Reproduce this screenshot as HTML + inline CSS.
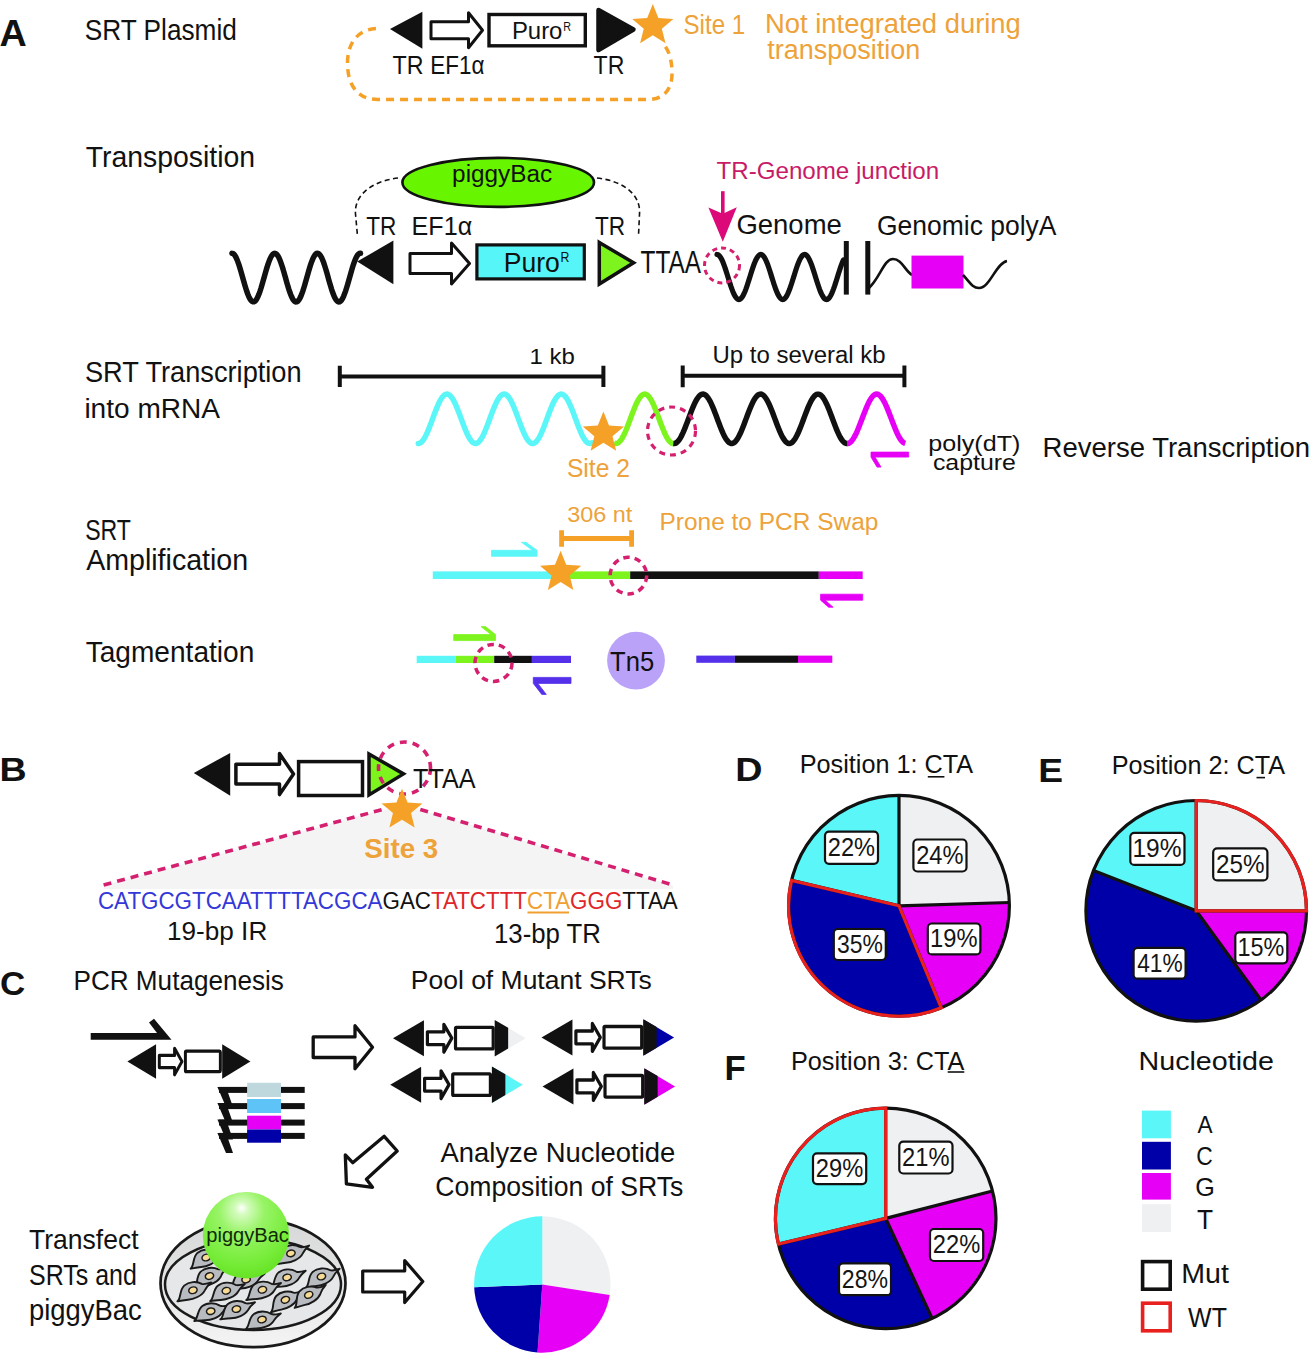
<!DOCTYPE html>
<html><head><meta charset="utf-8"><style>
html,body{margin:0;padding:0;background:#fff;}
svg{display:block;font-family:"Liberation Sans",sans-serif;}
</style></head><body>
<svg width="1312" height="1353" viewBox="0 0 1312 1353">
<rect width="1312" height="1353" fill="#fff"/>
<path d="M376,28.5 C356,30 347.5,45 347.5,63 C347.5,86 358,99.5 378,99.5 L648,99.5 C664,99.5 672,89 672,74 C672,62 670,53 665,46" fill="none" stroke="#F5A127" stroke-width="3.5" stroke-dasharray="8 6"/>
<polygon points="390.00,29.00 422.40,11.70 422.40,48.70" fill="#111111"/>
<polygon points="431.00,21.70 468.50,21.70 468.50,12.70 482.50,30.20 468.50,47.70 468.50,38.70 431.00,38.70" fill="#fff" stroke="#111111" stroke-width="3" stroke-linejoin="round"/>
<rect x="489" y="14.5" width="96.3" height="31.3" fill="#fff" stroke="#111111" stroke-width="3.4"/>
<polygon points="598.50,10.00 633.50,29.50 598.50,50.00" fill="#111111" stroke="#111111" stroke-width="4.5" stroke-linejoin="round"/>
<polygon points="652.80,4.10 658.39,18.01 673.34,19.03 661.84,28.64 665.50,43.17 652.80,35.20 640.10,43.17 643.76,28.64 632.26,19.03 647.21,18.01" fill="#F5A127"/>
<path d="M398,178 C372,181 354,195 355.5,214 L357.5,236" fill="none" stroke="#111111" stroke-width="1.6" stroke-dasharray="5 3.5"/>
<path d="M597,178 C624,181 641,195 639.5,214 L638.5,236" fill="none" stroke="#111111" stroke-width="1.6" stroke-dasharray="5 3.5"/>
<ellipse cx="498.2" cy="182.4" rx="95.8" ry="24.5" fill="#68F500" stroke="#111111" stroke-width="2.6"/>
<path d="M232.00,253.30 L233.00,253.56 L233.99,254.33 L234.99,255.61 L235.98,257.35 L236.98,259.53 L237.98,262.09 L238.97,264.98 L239.97,268.15 L240.97,271.51 L241.96,275.01 L242.96,278.56 L243.95,282.10 L244.95,285.53 L245.95,288.80 L246.94,291.82 L247.94,294.55 L248.93,296.91 L249.93,298.85 L250.93,300.34 L251.92,301.35 L252.92,301.85 L253.91,301.82 L254.91,301.28 L255.91,300.24 L256.90,298.71 L257.90,296.72 L258.90,294.33 L259.89,291.58 L260.89,288.53 L261.88,285.25 L262.88,281.80 L263.88,278.27 L264.87,274.72 L265.87,271.23 L266.86,267.87 L267.86,264.73 L268.86,261.86 L269.85,259.33 L270.85,257.19 L271.84,255.48 L272.84,254.25 L273.84,253.52 L274.83,253.30 L275.83,253.61 L276.83,254.42 L277.82,255.73 L278.82,257.52 L279.81,259.73 L280.81,262.32 L281.81,265.24 L282.80,268.42 L283.80,271.80 L284.79,275.31 L285.79,278.86 L286.79,282.39 L287.78,285.81 L288.78,289.06 L289.78,292.06 L290.77,294.76 L291.77,297.08 L292.76,298.99 L293.76,300.45 L294.76,301.41 L295.75,301.86 L296.75,301.80 L297.74,301.22 L298.74,300.13 L299.74,298.56 L300.73,296.54 L301.73,294.11 L302.72,291.34 L303.72,288.27 L304.72,284.97 L305.71,281.51 L306.71,277.97 L307.71,274.42 L308.70,270.94 L309.70,267.60 L310.69,264.48 L311.69,261.63 L312.69,259.13 L313.68,257.03 L314.68,255.36 L315.67,254.17 L316.67,253.48 L317.67,253.31 L318.66,253.65 L319.66,254.51 L320.66,255.87 L321.65,257.68 L322.65,259.93 L323.64,262.55 L324.64,265.49 L325.64,268.70 L326.63,272.09 L327.63,275.60 L328.62,279.16 L329.62,282.68 L330.62,286.09 L331.61,289.32 L332.61,292.30 L333.60,294.97 L334.60,297.26 L335.60,299.13 L336.59,300.55 L337.59,301.47 L338.59,301.88 L339.58,301.77 L340.58,301.14 L341.57,300.01 L342.57,298.40 L343.57,296.35 L344.56,293.89 L345.56,291.09 L346.55,288.00 L347.55,284.68 L348.55,281.22 L349.54,277.67 L350.54,274.13 L351.53,270.65 L352.53,267.33 L353.53,264.23 L354.52,261.41 L355.52,258.94 L356.52,256.87 L357.51,255.24 L358.51,254.09 L359.50,253.45 L360.50,253.32" fill="none" stroke="#111111" stroke-width="5.5" stroke-linecap="round"/>
<polygon points="357.20,261.60 393.40,240.50 393.40,284.30" fill="#111111"/>
<polygon points="410.00,253.40 451.50,253.40 451.50,242.90 469.50,263.40 451.50,283.90 451.50,273.40 410.00,273.40" fill="#fff" stroke="#111111" stroke-width="3" stroke-linejoin="round"/>
<rect x="476.9" y="244.9" width="107.4" height="34" fill="#55F5F8" stroke="#111111" stroke-width="3.2"/>
<polygon points="599.3,242.4 633.6,262.8 599.3,284" fill="#7EF41E" stroke="#111" stroke-width="3.5" stroke-linejoin="miter"/>
<rect x="721" y="191.2" width="3.6" height="24" fill="#DC0A78"/>
<polygon points="708.4,207.6 722.8,213.8 736.8,207.2 722.8,241.7" fill="#DC0A78"/>
<path d="M717.00,254.50 L718.00,254.73 L718.99,255.41 L719.99,256.54 L720.98,258.08 L721.98,260.00 L722.98,262.27 L723.97,264.85 L724.97,267.67 L725.96,270.68 L726.96,273.82 L727.96,277.02 L728.95,280.23 L729.95,283.36 L730.94,286.37 L731.94,289.19 L732.94,291.76 L733.93,294.03 L734.93,295.95 L735.93,297.48 L736.92,298.60 L737.92,299.28 L738.91,299.50 L739.91,299.26 L740.91,298.58 L741.90,297.45 L742.90,295.90 L743.89,293.97 L744.89,291.69 L745.89,289.12 L746.88,286.29 L747.88,283.28 L748.87,280.14 L749.87,276.94 L750.87,273.73 L751.86,270.60 L752.86,267.59 L753.85,264.77 L754.85,262.21 L755.85,259.95 L756.84,258.03 L757.84,256.50 L758.83,255.39 L759.83,254.72 L760.83,254.50 L761.82,254.74 L762.82,255.44 L763.81,256.57 L764.81,258.12 L765.81,260.06 L766.80,262.34 L767.80,264.92 L768.80,267.75 L769.79,270.76 L770.79,273.90 L771.78,277.11 L772.78,280.31 L773.78,283.45 L774.77,286.45 L775.77,289.26 L776.76,291.82 L777.76,294.08 L778.76,295.99 L779.75,297.52 L780.75,298.62 L781.74,299.29 L782.74,299.50 L783.74,299.25 L784.73,298.55 L785.73,297.41 L786.72,295.85 L787.72,293.91 L788.72,291.63 L789.71,289.04 L790.71,286.21 L791.70,283.20 L792.70,280.05 L793.70,276.85 L794.69,273.65 L795.69,270.51 L796.69,267.51 L797.68,264.70 L798.68,262.14 L799.67,259.89 L800.67,257.98 L801.67,256.46 L802.66,255.36 L803.66,254.71 L804.65,254.50 L805.65,254.75 L806.65,255.46 L807.64,256.61 L808.64,258.17 L809.63,260.12 L810.63,262.41 L811.63,264.99 L812.62,267.82 L813.62,270.84 L814.61,273.99 L815.61,277.19 L816.61,280.40 L817.60,283.53 L818.60,286.53 L819.59,289.33 L820.59,291.89 L821.59,294.14 L822.58,296.04 L823.58,297.55 L824.57,298.65 L825.57,299.30 L826.57,299.50 L827.56,299.24 L828.56,298.53 L829.56,297.37 L830.55,295.81 L831.55,293.86 L832.54,291.56 L833.54,288.97 L834.54,286.14 L835.53,283.11 L836.53,279.97 L837.52,276.76 L838.52,273.56 L839.52,270.43 L840.51,267.43 L841.51,264.63 L842.50,262.08 L843.50,259.83" fill="none" stroke="#111111" stroke-width="5.2" stroke-linecap="round"/>
<circle cx="722" cy="265.4" r="17.5" fill="none" stroke="#D5206F" stroke-width="3" stroke-dasharray="5 4"/>
<rect x="843.8" y="241" width="5" height="53.6" fill="#111111"/>
<rect x="865.3" y="241" width="5" height="53.6" fill="#111111"/>
<path d="M869,288 C880,278 884,259 893,259 C902,259 905,271 912,275" fill="none" stroke="#111111" stroke-width="2.6"/>
<rect x="911.5" y="255.6" width="52" height="32.9" fill="#E600F6"/>
<path d="M963,275 C969,281 972,288 979,288 C990,288 996,263 1007,261" fill="none" stroke="#111111" stroke-width="2.6"/>
<path d="M337.8,376.6 H605.4 M339.8,365.7 V387 M603.4,365.7 V387" fill="none" stroke="#111111" stroke-width="4"/>
<path d="M680.7,375.7 H906.4 M682.7,365.4 V387.2 M904.4,365.4 V387.2" fill="none" stroke="#111111" stroke-width="4"/>
<path d="M418.30,443.50 L419.30,443.36 L420.30,442.92 L421.29,442.19 L422.29,441.18 L423.29,439.90 L424.29,438.36 L425.29,436.60 L426.29,434.61 L427.28,432.44 L428.28,430.10 L429.28,427.63 L430.28,425.05 L431.28,422.40 L432.28,419.70 L433.27,416.99 L434.27,414.31 L435.27,411.67 L436.27,409.13 L437.27,406.70 L438.27,404.41 L439.26,402.30 L440.26,400.39 L441.26,398.69 L442.26,397.24 L443.26,396.05 L444.26,395.14 L445.25,394.50 L446.25,394.16 L447.25,394.12 L448.25,394.37 L449.25,394.92 L450.24,395.75 L451.24,396.86 L452.24,398.24 L453.24,399.86 L454.24,401.71 L455.24,403.76 L456.23,406.00 L457.23,408.39 L458.23,410.90 L459.23,413.51 L460.23,416.19 L461.23,418.89 L462.22,421.59 L463.22,424.26 L464.22,426.87 L465.22,429.38 L466.22,431.76 L467.22,433.98 L468.21,436.02 L469.21,437.86 L470.21,439.46 L471.21,440.82 L472.21,441.91 L473.21,442.73 L474.20,443.26 L475.20,443.49 L476.20,443.42 L477.20,443.06 L478.20,442.41 L479.19,441.48 L480.19,440.27 L481.19,438.80 L482.19,437.09 L483.19,435.16 L484.19,433.04 L485.18,430.75 L486.18,428.31 L487.18,425.75 L488.18,423.12 L489.18,420.43 L490.18,417.72 L491.17,415.02 L492.17,412.37 L493.17,409.80 L494.17,407.34 L495.17,405.01 L496.17,402.85 L497.16,400.88 L498.16,399.13 L499.16,397.61 L500.16,396.35 L501.16,395.36 L502.16,394.64 L503.15,394.23 L504.15,394.10 L505.15,394.27 L506.15,394.74 L507.15,395.50 L508.14,396.54 L509.14,397.84 L510.14,399.40 L511.14,401.19 L512.14,403.19 L513.14,405.38 L514.13,407.73 L515.13,410.22 L516.13,412.80 L517.13,415.46 L518.13,418.16 L519.13,420.87 L520.12,423.55 L521.12,426.18 L522.12,428.71 L523.12,431.13 L524.12,433.40 L525.12,435.49 L526.11,437.39 L527.11,439.06 L528.11,440.48 L529.11,441.65 L530.11,442.54 L531.11,443.14 L532.10,443.45 L533.10,443.47 L534.10,443.19 L535.10,442.61 L536.10,441.75 L537.09,440.62 L538.09,439.22 L539.09,437.57 L540.09,435.70 L541.09,433.63 L542.09,431.38 L543.08,428.97 L544.08,426.45 L545.08,423.83 L546.08,421.15 L547.08,418.45 L548.08,415.74 L549.07,413.08 L550.07,410.48 L551.07,407.99 L552.07,405.62 L553.07,403.41 L554.07,401.39 L555.06,399.58 L556.06,397.99 L557.06,396.66 L558.06,395.59 L559.06,394.81 L560.06,394.31 L561.05,394.11 L562.05,394.20 L563.05,394.59 L564.05,395.27 L565.05,396.23 L566.04,397.46 L567.04,398.96 L568.04,400.69 L569.04,402.63 L570.04,404.77 L571.04,407.09 L572.03,409.54 L573.03,412.10 L574.03,414.74 L575.03,417.43 L576.03,420.14 L577.03,422.84 L578.02,425.48 L579.02,428.04 L580.02,430.50 L581.02,432.81 L582.02,434.95 L583.02,436.90 L584.01,438.63 L585.01,440.12 L586.01,441.36 L587.01,442.33 L588.01,443.01 L589.01,443.40 L590.00,443.50 L591.00,443.29 L592.00,442.80" fill="none" stroke="#5AF6F8" stroke-width="5.5" stroke-linecap="round"/>
<path d="M614.00,442.88 L615.00,443.34 L615.99,443.50 L616.99,443.37 L617.99,442.95 L618.98,442.23 L619.98,441.24 L620.98,439.98 L621.97,438.47 L622.97,436.72 L623.97,434.76 L624.96,432.61 L625.96,430.30 L626.96,427.84 L627.95,425.28 L628.95,422.64 L629.95,419.96 L630.94,417.26 L631.94,414.58 L632.94,411.95 L633.93,409.41 L634.93,406.97 L635.93,404.68 L636.92,402.55 L637.92,400.62 L638.92,398.90 L639.91,397.42 L640.91,396.20 L641.91,395.25 L642.90,394.58 L643.90,394.19 L644.90,394.11 L645.89,394.31 L646.89,394.81 L647.89,395.59 L648.88,396.65 L649.88,397.98 L650.88,399.55 L651.87,401.36 L652.87,403.37 L653.87,405.56 L654.86,407.92 L655.86,410.40 L656.86,412.98 L657.85,415.64 L658.85,418.33 L659.85,421.02 L660.84,423.69 L661.84,426.30 L662.84,428.83 L663.83,431.23 L664.83,433.48 L665.83,435.56 L666.82,437.44 L667.82,439.10 L668.82,440.51 L669.81,441.67 L670.81,442.55 L671.81,443.15 L672.80,443.46 L673.80,443.47" fill="none" stroke="#7EF41E" stroke-width="5.5"/>
<path d="M673.30,443.41 L674.30,443.49 L675.29,443.29 L676.29,442.80 L677.28,442.03 L678.28,440.98 L679.27,439.67 L680.27,438.12 L681.26,436.34 L682.26,434.35 L683.25,432.18 L684.25,429.85 L685.25,427.39 L686.24,424.83 L687.24,422.19 L688.23,419.52 L689.23,416.84 L690.22,414.19 L691.22,411.58 L692.21,409.07 L693.21,406.66 L694.20,404.40 L695.20,402.31 L696.19,400.42 L697.19,398.74 L698.19,397.29 L699.18,396.10 L700.18,395.18 L701.17,394.54 L702.17,394.18 L703.16,394.11 L704.16,394.33 L705.15,394.84 L706.15,395.64 L707.14,396.70 L708.14,398.03 L709.14,399.60 L710.13,401.39 L711.13,403.39 L712.12,405.58 L713.12,407.92 L714.11,410.38 L715.11,412.95 L716.10,415.59 L717.10,418.26 L718.09,420.94 L719.09,423.59 L720.09,426.19 L721.08,428.70 L722.08,431.09 L723.07,433.34 L724.07,435.42 L725.06,437.30 L726.06,438.97 L727.05,440.39 L728.05,441.57 L729.04,442.47 L730.04,443.10 L731.03,443.44 L732.03,443.48 L733.03,443.24 L734.02,442.71 L735.02,441.90 L736.01,440.82 L737.01,439.47 L738.00,437.89 L739.00,436.08 L739.99,434.06 L740.99,431.87 L741.98,429.52 L742.98,427.05 L743.98,424.47 L744.97,421.83 L745.97,419.16 L746.96,416.48 L747.96,413.83 L748.95,411.24 L749.95,408.73 L750.94,406.35 L751.94,404.11 L752.93,402.04 L753.93,400.18 L754.93,398.53 L755.92,397.12 L756.92,395.96 L757.91,395.08 L758.91,394.47 L759.90,394.15 L760.90,394.12 L761.89,394.38 L762.89,394.93 L763.88,395.76 L764.88,396.87 L765.87,398.23 L766.87,399.83 L767.87,401.65 L768.86,403.68 L769.86,405.89 L770.85,408.24 L771.85,410.73 L772.84,413.30 L773.84,415.95 L774.83,418.62 L775.83,421.30 L776.82,423.95 L777.82,426.54 L778.82,429.03 L779.81,431.41 L780.81,433.64 L781.80,435.69 L782.80,437.54 L783.79,439.18 L784.79,440.57 L785.78,441.70 L786.78,442.57 L787.77,443.16 L788.77,443.46 L789.77,443.47 L790.76,443.19 L791.76,442.62 L792.75,441.77 L793.75,440.65 L794.74,439.27 L795.74,437.66 L796.73,435.82 L797.73,433.78 L798.72,431.56 L799.72,429.19 L800.71,426.70 L801.71,424.12 L802.71,421.47 L803.70,418.80 L804.70,416.12 L805.69,413.47 L806.69,410.89 L807.68,408.40 L808.68,406.04 L809.67,403.82 L810.67,401.78 L811.66,399.94 L812.66,398.32 L813.66,396.95 L814.65,395.83 L815.65,394.98 L816.64,394.41 L817.64,394.13 L818.63,394.14 L819.63,394.44 L820.62,395.03 L821.62,395.90 L822.61,397.03 L823.61,398.43 L824.61,400.06 L825.60,401.92 L826.60,403.97 L827.59,406.20 L828.59,408.57 L829.58,411.07 L830.58,413.66 L831.57,416.31 L832.57,418.98 L833.56,421.66 L834.56,424.30 L835.55,426.88 L836.55,429.36 L837.55,431.72 L838.54,433.92 L839.54,435.95 L840.53,437.78 L841.53,439.38 L842.52,440.74 L843.52,441.84 L844.51,442.67 L845.51,443.22 L846.50,443.48 L847.50,443.45" fill="none" stroke="#111111" stroke-width="5.5"/>
<path d="M847.00,443.48 L847.99,443.45 L848.98,443.15 L849.96,442.57 L850.95,441.73 L851.94,440.63 L852.93,439.29 L853.92,437.71 L854.91,435.93 L855.89,433.95 L856.88,431.80 L857.87,429.50 L858.86,427.09 L859.85,424.58 L860.83,422.01 L861.82,419.40 L862.81,416.79 L863.80,414.20 L864.79,411.66 L865.77,409.20 L866.76,406.84 L867.75,404.62 L868.74,402.57 L869.73,400.69 L870.72,399.01 L871.70,397.56 L872.69,396.35 L873.68,395.38 L874.67,394.68 L875.66,394.25 L876.64,394.10 L877.63,394.22 L878.62,394.62 L879.61,395.29 L880.60,396.22 L881.58,397.41 L882.57,398.84 L883.56,400.49 L884.55,402.34 L885.54,404.38 L886.53,406.59 L887.51,408.92 L888.50,411.37 L889.49,413.91 L890.48,416.49 L891.47,419.11 L892.45,421.72 L893.44,424.30 L894.43,426.81 L895.42,429.24 L896.41,431.55 L897.39,433.71 L898.38,435.71 L899.37,437.52 L900.36,439.12 L901.35,440.49 L902.34,441.62 L903.32,442.49 L904.31,443.10 L905.30,443.43" fill="none" stroke="#E600F6" stroke-width="5.5"/>
<polygon points="603.40,411.50 609.01,425.48 624.04,426.49 612.48,436.15 616.15,450.76 603.40,442.75 590.65,450.76 594.32,436.15 582.76,426.49 597.79,425.48" fill="#F5A127"/>
<circle cx="671.5" cy="431" r="24" fill="none" stroke="#D5206F" stroke-width="3.2" stroke-dasharray="6 5"/>
<polygon points="908.70,457.10 875.00,457.10 881.00,467.10 877.00,467.10 871.00,457.10 871.00,452.10 908.70,452.10" fill="#E600F6" stroke="#E600F6" stroke-width="0.8" stroke-linejoin="round"/>
<rect x="432.8" y="571.4" width="126.2" height="7.6" fill="#5AF6F8"/>
<rect x="559" y="571.4" width="71.4" height="7.6" fill="#7EF41E"/>
<rect x="630.2" y="571.4" width="188.6" height="7.6" fill="#111111"/>
<rect x="818.8" y="571.4" width="43.9" height="7.6" fill="#E600F6"/>
<polygon points="560.60,550.80 566.21,564.78 581.24,565.79 569.68,575.45 573.35,590.06 560.60,582.05 547.85,590.06 551.52,575.45 539.96,565.79 554.99,564.78" fill="#F5A127"/>
<path d="M561.6,538.5 H631.6 M561.6,530.3 V546.8 M631.6,530.3 V546.8" fill="none" stroke="#F5A127" stroke-width="4.8"/>
<polygon points="491.50,550.30 532.50,550.30 521.50,542.30 526.00,542.30 537.00,550.30 537.00,556.30 491.50,556.30" fill="#5AF6F8" stroke="#5AF6F8" stroke-width="0.8" stroke-linejoin="round"/>
<circle cx="628.4" cy="575.6" r="18.3" fill="none" stroke="#D5206F" stroke-width="3.5" stroke-dasharray="6.5 5"/>
<polygon points="862.70,600.20 825.10,600.20 833.10,607.20 828.60,607.20 820.60,600.20 820.60,594.20 862.70,594.20" fill="#E600F6" stroke="#E600F6" stroke-width="0.8" stroke-linejoin="round"/>
<rect x="416.7" y="655.8" width="39.1" height="7.2" fill="#5AF6F8"/>
<rect x="455.8" y="655.8" width="38.4" height="7.2" fill="#7EF41E"/>
<rect x="494.2" y="655.8" width="37.7" height="7.2" fill="#111111"/>
<rect x="531.9" y="655.8" width="39.1" height="7.2" fill="#5530EA"/>
<polygon points="453.70,634.60 491.00,634.60 481.00,626.60 485.50,626.60 495.50,634.60 495.50,640.60 453.70,640.60" fill="#7EF41E" stroke="#7EF41E" stroke-width="0.8" stroke-linejoin="round"/>
<polygon points="571.00,683.40 537.80,683.40 546.30,694.40 541.80,694.40 533.30,683.40 533.30,677.40 571.00,677.40" fill="#5530EA" stroke="#5530EA" stroke-width="0.8" stroke-linejoin="round"/>
<circle cx="493.5" cy="662.9" r="18.5" fill="none" stroke="#D5206F" stroke-width="3.5" stroke-dasharray="6.5 5"/>
<circle cx="636" cy="660.6" r="28.9" fill="#B9A2F8"/>
<rect x="696.3" y="655.6" width="38.6" height="7.2" fill="#5530EA"/>
<rect x="734.9" y="655.6" width="63.1" height="7.2" fill="#111111"/>
<rect x="798" y="655.6" width="34.3" height="7.2" fill="#E600F6"/>
<polygon points="103.6,885.5 382.4,809.5 420.3,809.5 673,885.5 673,889 103.6,889" fill="#F4F4F4"/>
<path d="M103.6,885 L382.4,809.5 M420.3,809.5 L673,885" fill="none" stroke="#D5206F" stroke-width="3.6" stroke-dasharray="8 6"/>
<polygon points="193.80,773.00 230.20,752.90 230.20,795.80" fill="#111111"/>
<polygon points="235.90,764.20 279.50,764.20 279.50,753.60 293.50,774.10 279.50,794.60 279.50,784.00 235.90,784.00" fill="#fff" stroke="#111111" stroke-width="3.5" stroke-linejoin="round"/>
<rect x="298.6" y="761.6" width="63.9" height="33.9" fill="#fff" stroke="#111111" stroke-width="3.5"/>
<polygon points="369,754 403.5,773.9 369,795" fill="#7EF41E" stroke="#111" stroke-width="3.5" stroke-linejoin="miter"/>
<circle cx="404.5" cy="768" r="26" fill="none" stroke="#D5206F" stroke-width="3.6" stroke-dasharray="7 6"/>
<polygon points="402.00,788.70 407.56,802.55 422.45,803.56 411.00,813.12 414.64,827.59 402.00,819.66 389.36,827.59 393.00,813.12 381.55,803.56 396.44,802.55" fill="#F5A127"/>
<line x1="527.5" y1="912.5" x2="569" y2="912.5" stroke="#F0A030" stroke-width="2"/>
<polygon points="90.7,1032.9 157,1032.9 149,1022.6 154,1018.8 171.5,1039.7 90.7,1039.7" fill="#111"/>
<g transform="translate(127.4,1061.5) scale(0.925,0.98)"><polygon points="0.00,0.00 31.00,-17.50 31.00,17.50" fill="#111111"/><polygon points="34.50,-6.20 51.00,-6.20 51.00,-13.50 59.00,0.00 51.00,13.50 51.00,6.20 34.50,6.20" fill="#fff" stroke="#111111" stroke-width="3.2" stroke-linejoin="round"/><rect x="62.7" y="-10.6" width="37.8" height="21" fill="#fff" stroke="#111111" stroke-width="3.2" rx="1"/><polygon points="102.50,-17.50 133.00,0.00 102.50,17.50" fill="#111111"/></g>
<rect x="219" y="1086.9" width="85.7" height="6" fill="#111111"/>
<polygon points="217.4,1086.9 226,1086.9 233,1106.9 226,1106.9" fill="#111111"/>
<rect x="219" y="1103.1" width="85.7" height="6" fill="#111111"/>
<polygon points="217.4,1103.1 226,1103.1 233,1123.1 226,1123.1" fill="#111111"/>
<rect x="219" y="1119.6" width="85.7" height="6" fill="#111111"/>
<polygon points="217.4,1119.6 226,1119.6 233,1139.6 226,1139.6" fill="#111111"/>
<rect x="219" y="1132.9" width="85.7" height="6" fill="#111111"/>
<polygon points="217.4,1132.9 226,1132.9 233,1152.9 226,1152.9" fill="#111111"/>
<rect x="247.1" y="1082.8" width="33.9" height="14.2" fill="#BED8DD"/>
<rect x="247.1" y="1099" width="33.9" height="14" fill="#5EC3F6"/>
<rect x="247.1" y="1115.7" width="33.9" height="13.8" fill="#E600F6"/>
<rect x="247.1" y="1129.5" width="33.9" height="13.2" fill="#0000A8"/>
<polygon points="313.20,1036.90 355.00,1036.90 355.00,1025.70 372.50,1047.20 355.00,1068.70 355.00,1057.50 313.20,1057.50" fill="#fff" stroke="#111111" stroke-width="3.3" stroke-linejoin="round"/>
<g transform="translate(393,1038.2) scale(0.997,1.03)"><polygon points="0.00,0.00 31.00,-17.50 31.00,17.50" fill="#111111"/><polygon points="34.50,-6.20 51.00,-6.20 51.00,-13.50 59.00,0.00 51.00,13.50 51.00,6.20 34.50,6.20" fill="#fff" stroke="#111111" stroke-width="3.2" stroke-linejoin="round"/><rect x="62.7" y="-10.6" width="37.8" height="21" fill="#fff" stroke="#111111" stroke-width="3.2" rx="1"/><polygon points="102.5,-17.5 133,0 102.5,17.5" fill="#EEF0F1"/><polygon points="102,-17.7 115.5,-10.1 115.5,10.1 102,17.7" fill="#111111"/></g>
<g transform="translate(541.5,1037.4) scale(0.997,1.03)"><polygon points="0.00,0.00 31.00,-17.50 31.00,17.50" fill="#111111"/><polygon points="34.50,-6.20 51.00,-6.20 51.00,-13.50 59.00,0.00 51.00,13.50 51.00,6.20 34.50,6.20" fill="#fff" stroke="#111111" stroke-width="3.2" stroke-linejoin="round"/><rect x="62.7" y="-10.6" width="37.8" height="21" fill="#fff" stroke="#111111" stroke-width="3.2" rx="1"/><polygon points="102.5,-17.5 133,0 102.5,17.5" fill="#0000A8"/><polygon points="102,-17.7 115.5,-10.1 115.5,10.1 102,17.7" fill="#111111"/></g>
<g transform="translate(390.2,1084.7) scale(0.997,1.03)"><polygon points="0.00,0.00 31.00,-17.50 31.00,17.50" fill="#111111"/><polygon points="34.50,-6.20 51.00,-6.20 51.00,-13.50 59.00,0.00 51.00,13.50 51.00,6.20 34.50,6.20" fill="#fff" stroke="#111111" stroke-width="3.2" stroke-linejoin="round"/><rect x="62.7" y="-10.6" width="37.8" height="21" fill="#fff" stroke="#111111" stroke-width="3.2" rx="1"/><polygon points="102.5,-17.5 133,0 102.5,17.5" fill="#5AF6F8"/><polygon points="102,-17.7 115.5,-10.1 115.5,10.1 102,17.7" fill="#111111"/></g>
<g transform="translate(542.5,1086.4) scale(0.997,1.03)"><polygon points="0.00,0.00 31.00,-17.50 31.00,17.50" fill="#111111"/><polygon points="34.50,-6.20 51.00,-6.20 51.00,-13.50 59.00,0.00 51.00,13.50 51.00,6.20 34.50,6.20" fill="#fff" stroke="#111111" stroke-width="3.2" stroke-linejoin="round"/><rect x="62.7" y="-10.6" width="37.8" height="21" fill="#fff" stroke="#111111" stroke-width="3.2" rx="1"/><polygon points="102.5,-17.5 133,0 102.5,17.5" fill="#E600F6"/><polygon points="102,-17.7 115.5,-10.1 115.5,10.1 102,17.7" fill="#111111"/></g>
<polygon points="384.2,1136.3 397.2,1151 366.4,1179.3 372.5,1187.3 346.4,1183.9 345.3,1154.9 352.7,1162.7" fill="#fff" stroke="#111" stroke-width="3.3" stroke-linejoin="round"/>
<polygon points="362.70,1271.00 404.70,1271.00 404.70,1260.50 422.80,1281.50 404.70,1302.50 404.70,1292.00 362.70,1292.00" fill="#fff" stroke="#111111" stroke-width="3.2" stroke-linejoin="round"/>
<defs><radialGradient id="sph" cx="0.45" cy="0.3" r="0.75" fx="0.45" fy="0.18"><stop offset="0" stop-color="#FFFFFF"/><stop offset="0.1" stop-color="#D4FBBE"/><stop offset="0.35" stop-color="#98F466"/><stop offset="0.75" stop-color="#76EC38"/><stop offset="1" stop-color="#62E020"/></radialGradient><linearGradient id="dishg" x1="0" y1="0" x2="0" y2="1"><stop offset="0" stop-color="#D6D7D8"/><stop offset="1" stop-color="#F4F4F4"/></linearGradient></defs>
<ellipse cx="253" cy="1283.2" rx="92.5" ry="64" fill="url(#dishg)" stroke="#1a1a1a" stroke-width="2.7"/>
<ellipse cx="253" cy="1284.5" rx="88" ry="45.5" fill="#E6E7E8" stroke="#1a1a1a" stroke-width="2.5"/>
<g transform="translate(206,1257) rotate(-15) scale(1.12)"><path d="M-16,6.5 C-12,5 -12,-2.5 -6.5,-5.5 C-1.5,-8 5.5,-6.5 9,-3 C11,-1.5 14,-1.8 17.5,-2 C14.5,-0.5 12,1 10,3.5 C6.5,7.5 -1.5,8.5 -6.5,7.5 C-9.5,7 -12.5,6.8 -16,6.5 Z" fill="#B8BCC0" stroke="#1a1a1a" stroke-width="1.7" stroke-linejoin="round"/><ellipse cx="0" cy="0.5" rx="3.8" ry="2.9" fill="#F6DA96" stroke="#1a1a1a" stroke-width="1.3"/></g>
<g transform="translate(246,1279) rotate(-10) scale(1.12)"><path d="M-16,6.5 C-12,5 -12,-2.5 -6.5,-5.5 C-1.5,-8 5.5,-6.5 9,-3 C11,-1.5 14,-1.8 17.5,-2 C14.5,-0.5 12,1 10,3.5 C6.5,7.5 -1.5,8.5 -6.5,7.5 C-9.5,7 -12.5,6.8 -16,6.5 Z" fill="#B8BCC0" stroke="#1a1a1a" stroke-width="1.7" stroke-linejoin="round"/><ellipse cx="0" cy="0.5" rx="3.8" ry="2.9" fill="#F6DA96" stroke="#1a1a1a" stroke-width="1.3"/></g>
<g transform="translate(290.8,1252.8) rotate(-15) scale(1.12)"><path d="M-16,6.5 C-12,5 -12,-2.5 -6.5,-5.5 C-1.5,-8 5.5,-6.5 9,-3 C11,-1.5 14,-1.8 17.5,-2 C14.5,-0.5 12,1 10,3.5 C6.5,7.5 -1.5,8.5 -6.5,7.5 C-9.5,7 -12.5,6.8 -16,6.5 Z" fill="#B8BCC0" stroke="#1a1a1a" stroke-width="1.7" stroke-linejoin="round"/><ellipse cx="0" cy="0.5" rx="3.8" ry="2.9" fill="#F6DA96" stroke="#1a1a1a" stroke-width="1.3"/></g>
<g transform="translate(209.3,1275.5) rotate(-18) scale(1.12)"><path d="M-16,6.5 C-12,5 -12,-2.5 -6.5,-5.5 C-1.5,-8 5.5,-6.5 9,-3 C11,-1.5 14,-1.8 17.5,-2 C14.5,-0.5 12,1 10,3.5 C6.5,7.5 -1.5,8.5 -6.5,7.5 C-9.5,7 -12.5,6.8 -16,6.5 Z" fill="#B8BCC0" stroke="#1a1a1a" stroke-width="1.7" stroke-linejoin="round"/><ellipse cx="0" cy="0.5" rx="3.8" ry="2.9" fill="#F6DA96" stroke="#1a1a1a" stroke-width="1.3"/></g>
<g transform="translate(287,1276.9) rotate(-12) scale(1.12)"><path d="M-16,6.5 C-12,5 -12,-2.5 -6.5,-5.5 C-1.5,-8 5.5,-6.5 9,-3 C11,-1.5 14,-1.8 17.5,-2 C14.5,-0.5 12,1 10,3.5 C6.5,7.5 -1.5,8.5 -6.5,7.5 C-9.5,7 -12.5,6.8 -16,6.5 Z" fill="#B8BCC0" stroke="#1a1a1a" stroke-width="1.7" stroke-linejoin="round"/><ellipse cx="0" cy="0.5" rx="3.8" ry="2.9" fill="#F6DA96" stroke="#1a1a1a" stroke-width="1.3"/></g>
<g transform="translate(321.3,1276) rotate(-15) scale(1.12)"><path d="M-16,6.5 C-12,5 -12,-2.5 -6.5,-5.5 C-1.5,-8 5.5,-6.5 9,-3 C11,-1.5 14,-1.8 17.5,-2 C14.5,-0.5 12,1 10,3.5 C6.5,7.5 -1.5,8.5 -6.5,7.5 C-9.5,7 -12.5,6.8 -16,6.5 Z" fill="#B8BCC0" stroke="#1a1a1a" stroke-width="1.7" stroke-linejoin="round"/><ellipse cx="0" cy="0.5" rx="3.8" ry="2.9" fill="#F6DA96" stroke="#1a1a1a" stroke-width="1.3"/></g>
<g transform="translate(192.8,1289.7) rotate(-15) scale(1.12)"><path d="M-16,6.5 C-12,5 -12,-2.5 -6.5,-5.5 C-1.5,-8 5.5,-6.5 9,-3 C11,-1.5 14,-1.8 17.5,-2 C14.5,-0.5 12,1 10,3.5 C6.5,7.5 -1.5,8.5 -6.5,7.5 C-9.5,7 -12.5,6.8 -16,6.5 Z" fill="#B8BCC0" stroke="#1a1a1a" stroke-width="1.7" stroke-linejoin="round"/><ellipse cx="0" cy="0.5" rx="3.8" ry="2.9" fill="#F6DA96" stroke="#1a1a1a" stroke-width="1.3"/></g>
<g transform="translate(226.2,1290.2) rotate(-12) scale(1.12)"><path d="M-16,6.5 C-12,5 -12,-2.5 -6.5,-5.5 C-1.5,-8 5.5,-6.5 9,-3 C11,-1.5 14,-1.8 17.5,-2 C14.5,-0.5 12,1 10,3.5 C6.5,7.5 -1.5,8.5 -6.5,7.5 C-9.5,7 -12.5,6.8 -16,6.5 Z" fill="#B8BCC0" stroke="#1a1a1a" stroke-width="1.7" stroke-linejoin="round"/><ellipse cx="0" cy="0.5" rx="3.8" ry="2.9" fill="#F6DA96" stroke="#1a1a1a" stroke-width="1.3"/></g>
<g transform="translate(262.3,1289.2) rotate(-12) scale(1.12)"><path d="M-16,6.5 C-12,5 -12,-2.5 -6.5,-5.5 C-1.5,-8 5.5,-6.5 9,-3 C11,-1.5 14,-1.8 17.5,-2 C14.5,-0.5 12,1 10,3.5 C6.5,7.5 -1.5,8.5 -6.5,7.5 C-9.5,7 -12.5,6.8 -16,6.5 Z" fill="#B8BCC0" stroke="#1a1a1a" stroke-width="1.7" stroke-linejoin="round"/><ellipse cx="0" cy="0.5" rx="3.8" ry="2.9" fill="#F6DA96" stroke="#1a1a1a" stroke-width="1.3"/></g>
<g transform="translate(285.2,1299.3) rotate(-20) scale(1.12)"><path d="M-16,6.5 C-12,5 -12,-2.5 -6.5,-5.5 C-1.5,-8 5.5,-6.5 9,-3 C11,-1.5 14,-1.8 17.5,-2 C14.5,-0.5 12,1 10,3.5 C6.5,7.5 -1.5,8.5 -6.5,7.5 C-9.5,7 -12.5,6.8 -16,6.5 Z" fill="#B8BCC0" stroke="#1a1a1a" stroke-width="1.7" stroke-linejoin="round"/><ellipse cx="0" cy="0.5" rx="3.8" ry="2.9" fill="#F6DA96" stroke="#1a1a1a" stroke-width="1.3"/></g>
<g transform="translate(308.5,1294.4) rotate(-22) scale(1.12)"><path d="M-16,6.5 C-12,5 -12,-2.5 -6.5,-5.5 C-1.5,-8 5.5,-6.5 9,-3 C11,-1.5 14,-1.8 17.5,-2 C14.5,-0.5 12,1 10,3.5 C6.5,7.5 -1.5,8.5 -6.5,7.5 C-9.5,7 -12.5,6.8 -16,6.5 Z" fill="#B8BCC0" stroke="#1a1a1a" stroke-width="1.7" stroke-linejoin="round"/><ellipse cx="0" cy="0.5" rx="3.8" ry="2.9" fill="#F6DA96" stroke="#1a1a1a" stroke-width="1.3"/></g>
<g transform="translate(210.6,1310.7) rotate(-10) scale(1.12)"><path d="M-16,6.5 C-12,5 -12,-2.5 -6.5,-5.5 C-1.5,-8 5.5,-6.5 9,-3 C11,-1.5 14,-1.8 17.5,-2 C14.5,-0.5 12,1 10,3.5 C6.5,7.5 -1.5,8.5 -6.5,7.5 C-9.5,7 -12.5,6.8 -16,6.5 Z" fill="#B8BCC0" stroke="#1a1a1a" stroke-width="1.7" stroke-linejoin="round"/><ellipse cx="0" cy="0.5" rx="3.8" ry="2.9" fill="#F6DA96" stroke="#1a1a1a" stroke-width="1.3"/></g>
<g transform="translate(236.3,1308.5) rotate(-12) scale(1.12)"><path d="M-16,6.5 C-12,5 -12,-2.5 -6.5,-5.5 C-1.5,-8 5.5,-6.5 9,-3 C11,-1.5 14,-1.8 17.5,-2 C14.5,-0.5 12,1 10,3.5 C6.5,7.5 -1.5,8.5 -6.5,7.5 C-9.5,7 -12.5,6.8 -16,6.5 Z" fill="#B8BCC0" stroke="#1a1a1a" stroke-width="1.7" stroke-linejoin="round"/><ellipse cx="0" cy="0.5" rx="3.8" ry="2.9" fill="#F6DA96" stroke="#1a1a1a" stroke-width="1.3"/></g>
<g transform="translate(261.9,1319) rotate(-10) scale(1.12)"><path d="M-16,6.5 C-12,5 -12,-2.5 -6.5,-5.5 C-1.5,-8 5.5,-6.5 9,-3 C11,-1.5 14,-1.8 17.5,-2 C14.5,-0.5 12,1 10,3.5 C6.5,7.5 -1.5,8.5 -6.5,7.5 C-9.5,7 -12.5,6.8 -16,6.5 Z" fill="#B8BCC0" stroke="#1a1a1a" stroke-width="1.7" stroke-linejoin="round"/><ellipse cx="0" cy="0.5" rx="3.8" ry="2.9" fill="#F6DA96" stroke="#1a1a1a" stroke-width="1.3"/></g>
<circle cx="246" cy="1235.2" r="43.2" fill="url(#sph)"/>
<path d="M542.30,1284.50 L542.30,1216.30 A68.20,68.20 0 0 1 609.70,1294.93 Z" fill="#EEF0F1"/>
<path d="M542.30,1284.50 L609.70,1294.93 A68.20,68.20 0 0 1 537.54,1352.53 Z" fill="#E600F6"/>
<path d="M542.30,1284.50 L537.54,1352.53 A68.20,68.20 0 0 1 474.16,1287.36 Z" fill="#0000A8"/>
<path d="M542.30,1284.50 L474.16,1287.36 A68.20,68.20 0 0 1 542.30,1216.30 Z" fill="#5AF6F8"/>
<path d="M899.00,905.80 L899.00,795.40 A110.40,110.40 0 0 1 1009.35,902.52 Z" fill="#EEF0F1"/>
<path d="M899.00,905.80 L1009.35,902.52 A110.40,110.40 0 0 1 941.25,1007.80 Z" fill="#E600F6"/>
<path d="M899.00,905.80 L941.25,1007.80 A110.40,110.40 0 0 1 791.56,880.40 Z" fill="#0000A8"/>
<path d="M899.00,905.80 L791.56,880.40 A110.40,110.40 0 0 1 899.00,795.40 Z" fill="#5AF6F8"/>
<circle cx="899" cy="905.8" r="110.4" fill="none" stroke="#111" stroke-width="3.2"/>
<line x1="899" y1="905.8" x2="899.00" y2="795.40" stroke="#111" stroke-width="3.2"/>
<line x1="899" y1="905.8" x2="1009.35" y2="902.52" stroke="#111" stroke-width="3.2"/>
<line x1="899" y1="905.8" x2="941.25" y2="1007.80" stroke="#111" stroke-width="3.2"/>
<line x1="899" y1="905.8" x2="791.56" y2="880.40" stroke="#111" stroke-width="3.2"/>
<path d="M899.00,905.80 L941.25,1007.80 A110.40,110.40 0 0 1 791.56,880.40 Z" fill="none" stroke="#E8201E" stroke-width="3.2" stroke-linejoin="miter"/>
<path d="M1196.20,910.80 L1196.20,800.50 A110.30,110.30 0 0 1 1306.50,910.80 Z" fill="#EEF0F1"/>
<path d="M1196.20,910.80 L1306.50,910.80 A110.30,110.30 0 0 1 1261.03,1000.03 Z" fill="#E600F6"/>
<path d="M1196.20,910.80 L1261.03,1000.03 A110.30,110.30 0 0 1 1093.50,870.55 Z" fill="#0000A8"/>
<path d="M1196.20,910.80 L1093.50,870.55 A110.30,110.30 0 0 1 1196.20,800.50 Z" fill="#5AF6F8"/>
<circle cx="1196.2" cy="910.8" r="110.3" fill="none" stroke="#111" stroke-width="3.2"/>
<line x1="1196.2" y1="910.8" x2="1196.20" y2="800.50" stroke="#111" stroke-width="3.2"/>
<line x1="1196.2" y1="910.8" x2="1306.50" y2="910.80" stroke="#111" stroke-width="3.2"/>
<line x1="1196.2" y1="910.8" x2="1261.03" y2="1000.03" stroke="#111" stroke-width="3.2"/>
<line x1="1196.2" y1="910.8" x2="1093.50" y2="870.55" stroke="#111" stroke-width="3.2"/>
<path d="M1196.20,910.80 L1196.20,800.50 A110.30,110.30 0 0 1 1306.50,910.80 Z" fill="none" stroke="#E8201E" stroke-width="3.2" stroke-linejoin="miter"/>
<path d="M885.70,1218.40 L885.70,1108.10 A110.30,110.30 0 0 1 992.53,1190.97 Z" fill="#EEF0F1"/>
<path d="M885.70,1218.40 L992.53,1190.97 A110.30,110.30 0 0 1 932.14,1318.45 Z" fill="#E600F6"/>
<path d="M885.70,1218.40 L932.14,1318.45 A110.30,110.30 0 0 1 778.45,1244.15 Z" fill="#0000A8"/>
<path d="M885.70,1218.40 L778.45,1244.15 A110.30,110.30 0 0 1 885.70,1108.10 Z" fill="#5AF6F8"/>
<circle cx="885.7" cy="1218.4" r="110.3" fill="none" stroke="#111" stroke-width="3.2"/>
<line x1="885.7" y1="1218.4" x2="885.70" y2="1108.10" stroke="#111" stroke-width="3.2"/>
<line x1="885.7" y1="1218.4" x2="992.53" y2="1190.97" stroke="#111" stroke-width="3.2"/>
<line x1="885.7" y1="1218.4" x2="932.14" y2="1318.45" stroke="#111" stroke-width="3.2"/>
<line x1="885.7" y1="1218.4" x2="778.45" y2="1244.15" stroke="#111" stroke-width="3.2"/>
<path d="M885.70,1218.40 L778.45,1244.15 A110.30,110.30 0 0 1 885.70,1108.10 Z" fill="none" stroke="#E8201E" stroke-width="3.2" stroke-linejoin="miter"/>
<rect x="825.00" y="831.70" width="53.00" height="32.10" rx="4" fill="#fff" stroke="#111" stroke-width="2.2"/>
<text x="827.82" y="856.15" font-size="25.36" fill="#151515" textLength="47.24" lengthAdjust="spacingAndGlyphs" style="" >22%</text>
<rect x="913.40" y="839.50" width="53.10" height="32.00" rx="4" fill="#fff" stroke="#111" stroke-width="2.2"/>
<text x="916.22" y="863.90" font-size="25.36" fill="#151515" textLength="47.35" lengthAdjust="spacingAndGlyphs" style="" >24%</text>
<rect x="833.80" y="929.00" width="52.00" height="31.00" rx="4" fill="#fff" stroke="#111" stroke-width="2.2"/>
<text x="836.88" y="952.90" font-size="25.36" fill="#151515" textLength="45.96" lengthAdjust="spacingAndGlyphs" style="" >35%</text>
<rect x="927.80" y="923.50" width="52.60" height="30.90" rx="4" fill="#fff" stroke="#111" stroke-width="2.2"/>
<text x="930.02" y="947.35" font-size="25.36" fill="#151515" textLength="47.44" lengthAdjust="spacingAndGlyphs" style="" >19%</text>
<rect x="1130.30" y="832.80" width="54.20" height="32.10" rx="4" fill="#fff" stroke="#111" stroke-width="2.2"/>
<text x="1132.46" y="857.25" font-size="25.36" fill="#151515" textLength="49.14" lengthAdjust="spacingAndGlyphs" style="" >19%</text>
<rect x="1213.20" y="848.30" width="54.20" height="32.10" rx="4" fill="#fff" stroke="#111" stroke-width="2.2"/>
<text x="1215.99" y="872.75" font-size="25.36" fill="#151515" textLength="48.50" lengthAdjust="spacingAndGlyphs" style="" >25%</text>
<rect x="1235.30" y="932.30" width="52.00" height="31.00" rx="4" fill="#fff" stroke="#111" stroke-width="2.2"/>
<text x="1237.55" y="956.20" font-size="25.36" fill="#151515" textLength="46.81" lengthAdjust="spacingAndGlyphs" style="" >15%</text>
<rect x="1133.60" y="947.80" width="52.00" height="30.90" rx="4" fill="#fff" stroke="#111" stroke-width="2.2"/>
<text x="1137.15" y="971.65" font-size="25.36" fill="#151515" textLength="45.48" lengthAdjust="spacingAndGlyphs" style="" >41%</text>
<rect x="899.30" y="1141.60" width="53.20" height="31.90" rx="4" fill="#fff" stroke="#111" stroke-width="2.2"/>
<text x="902.11" y="1165.95" font-size="25.36" fill="#151515" textLength="47.45" lengthAdjust="spacingAndGlyphs" style="" >21%</text>
<rect x="813.00" y="1153.40" width="53.20" height="30.70" rx="4" fill="#fff" stroke="#111" stroke-width="2.2"/>
<text x="815.81" y="1177.15" font-size="25.36" fill="#151515" textLength="47.45" lengthAdjust="spacingAndGlyphs" style="" >29%</text>
<rect x="930.00" y="1229.00" width="53.20" height="32.00" rx="4" fill="#fff" stroke="#111" stroke-width="2.2"/>
<text x="932.81" y="1253.40" font-size="25.36" fill="#151515" textLength="47.45" lengthAdjust="spacingAndGlyphs" style="" >22%</text>
<rect x="839.00" y="1263.30" width="52.00" height="31.90" rx="4" fill="#fff" stroke="#111" stroke-width="2.2"/>
<text x="841.85" y="1287.65" font-size="25.36" fill="#151515" textLength="46.20" lengthAdjust="spacingAndGlyphs" style="" >28%</text>
<line x1="927.8" y1="776.8" x2="944.4" y2="776.8" stroke="#111" stroke-width="1.6"/>
<line x1="1256.5" y1="777.6" x2="1265" y2="777.6" stroke="#111" stroke-width="1.6"/>
<line x1="947.7" y1="1072" x2="964.3" y2="1072" stroke="#111" stroke-width="1.6"/>
<rect x="1142" y="1110.6" width="28.9" height="27.7" fill="#5AF6F8"/>
<rect x="1142" y="1141.8" width="28.9" height="27.7" fill="#0000A8"/>
<rect x="1142" y="1173" width="28.9" height="26.6" fill="#E600F6"/>
<rect x="1142" y="1204.2" width="28.9" height="27.8" fill="#EEF0F1"/>
<rect x="1142.6" y="1261.6" width="27.6" height="27.6" fill="none" stroke="#111" stroke-width="3.6"/>
<rect x="1142.6" y="1303.2" width="27.6" height="27.6" fill="none" stroke="#E8201E" stroke-width="3.6"/>
<text x="-0.64" y="46.10" font-size="37.39" fill="#111111" textLength="27.27" lengthAdjust="spacingAndGlyphs" style="font-weight:bold;" >A</text>
<text x="84.82" y="40.00" font-size="28.99" fill="#111111" textLength="151.98" lengthAdjust="spacingAndGlyphs" style="" >SRT Plasmid</text>
<text x="392.54" y="73.90" font-size="26.38" fill="#111111" textLength="30.98" lengthAdjust="spacingAndGlyphs" style="" >TR</text>
<text x="430.20" y="73.90" font-size="26.38" fill="#111111" textLength="54.21" lengthAdjust="spacingAndGlyphs" style="" >EF1α</text>
<text x="511.89" y="38.85" font-size="24.64" fill="#111111" textLength="50.53" lengthAdjust="spacingAndGlyphs" style="" >Puro</text>
<text x="563.34" y="30.80" font-size="13.33" fill="#111111" textLength="7.77" lengthAdjust="spacingAndGlyphs" style="" >R</text>
<text x="593.54" y="73.90" font-size="26.38" fill="#111111" textLength="30.77" lengthAdjust="spacingAndGlyphs" style="" >TR</text>
<text x="683.52" y="34.20" font-size="27.83" fill="#EDA23A" textLength="61.62" lengthAdjust="spacingAndGlyphs" style="" >Site 1</text>
<text x="765.01" y="33.20" font-size="26.81" fill="#EDA23A" textLength="255.86" lengthAdjust="spacingAndGlyphs" style="" >Not integrated during</text>
<text x="767.30" y="58.80" font-size="26.81" fill="#EDA23A" textLength="152.86" lengthAdjust="spacingAndGlyphs" style="" >transposition</text>
<text x="85.63" y="166.60" font-size="28.99" fill="#111111" textLength="169.54" lengthAdjust="spacingAndGlyphs" style="" >Transposition</text>
<text x="452.12" y="182.40" font-size="23.77" fill="#111111" textLength="100.06" lengthAdjust="spacingAndGlyphs" style="" >piggyBac</text>
<text x="366.25" y="234.80" font-size="25.94" fill="#111111" textLength="30.14" lengthAdjust="spacingAndGlyphs" style="" >TR</text>
<text x="411.59" y="234.80" font-size="25.94" fill="#111111" textLength="60.59" lengthAdjust="spacingAndGlyphs" style="" >EF1α</text>
<text x="594.95" y="234.80" font-size="25.94" fill="#111111" textLength="30.14" lengthAdjust="spacingAndGlyphs" style="" >TR</text>
<text x="503.78" y="271.50" font-size="27.83" fill="#111111" textLength="56.05" lengthAdjust="spacingAndGlyphs" style="" >Puro</text>
<text x="560.62" y="262.10" font-size="15.22" fill="#111111" textLength="8.86" lengthAdjust="spacingAndGlyphs" style="" >R</text>
<text x="640.51" y="273.00" font-size="31.59" fill="#111111" textLength="60.53" lengthAdjust="spacingAndGlyphs" style="" >TTAA</text>
<text x="716.52" y="179.00" font-size="23.19" fill="#C81A66" textLength="222.68" lengthAdjust="spacingAndGlyphs" style="" >TR-Genome junction</text>
<text x="736.43" y="234.00" font-size="27.54" fill="#111111" textLength="105.43" lengthAdjust="spacingAndGlyphs" style="" >Genome</text>
<text x="876.98" y="235.40" font-size="27.25" fill="#111111" textLength="179.45" lengthAdjust="spacingAndGlyphs" style="" >Genomic polyA</text>
<text x="84.98" y="381.60" font-size="28.99" fill="#111111" textLength="216.64" lengthAdjust="spacingAndGlyphs" style="" >SRT Transcription</text>
<text x="84.38" y="417.70" font-size="28.26" fill="#111111" textLength="135.61" lengthAdjust="spacingAndGlyphs" style="" >into mRNA</text>
<text x="529.50" y="363.50" font-size="22.75" fill="#111111" textLength="45.26" lengthAdjust="spacingAndGlyphs" style="" >1 kb</text>
<text x="712.50" y="363.20" font-size="23.48" fill="#111111" textLength="173.17" lengthAdjust="spacingAndGlyphs" style="" >Up to several kb</text>
<text x="566.89" y="476.50" font-size="25.80" fill="#EDA23A" textLength="63.10" lengthAdjust="spacingAndGlyphs" style="" >Site 2</text>
<text x="928.27" y="451.40" font-size="22.46" fill="#111111" textLength="92.11" lengthAdjust="spacingAndGlyphs" style="" >poly(dT)</text>
<text x="932.90" y="469.70" font-size="22.46" fill="#111111" textLength="83.03" lengthAdjust="spacingAndGlyphs" style="" >capture</text>
<text x="1042.60" y="456.60" font-size="28.41" fill="#111111" textLength="267.53" lengthAdjust="spacingAndGlyphs" style="" >Reverse Transcription</text>
<text x="85.16" y="539.60" font-size="28.70" fill="#111111" textLength="45.75" lengthAdjust="spacingAndGlyphs" style="" >SRT</text>
<text x="86.20" y="570.40" font-size="28.70" fill="#111111" textLength="161.93" lengthAdjust="spacingAndGlyphs" style="" >Amplification</text>
<text x="567.26" y="522.20" font-size="22.75" fill="#EDA23A" textLength="65.06" lengthAdjust="spacingAndGlyphs" style="" >306 nt</text>
<text x="659.54" y="530.20" font-size="23.77" fill="#EDA23A" textLength="218.81" lengthAdjust="spacingAndGlyphs" style="" >Prone to PCR Swap</text>
<text x="85.64" y="661.50" font-size="28.70" fill="#111111" textLength="168.76" lengthAdjust="spacingAndGlyphs" style="" >Tagmentation</text>
<text x="610.09" y="670.50" font-size="27.83" fill="#111111" textLength="44.12" lengthAdjust="spacingAndGlyphs" style="" >Tn5</text>
<text x="-0.54" y="781.40" font-size="33.04" fill="#111111" textLength="27.11" lengthAdjust="spacingAndGlyphs" style="font-weight:bold;" >B</text>
<text x="413.10" y="788.20" font-size="27.10" fill="#111111" textLength="62.44" lengthAdjust="spacingAndGlyphs" style="" >TTAA</text>
<text x="364.27" y="858.00" font-size="26.96" fill="#EDA23A" textLength="73.88" lengthAdjust="spacingAndGlyphs" style="font-weight:bold;" >Site 3</text>
<text x="97.98" y="908.60" font-size="23.48" fill="#1a1a1a" textLength="579.82" lengthAdjust="spacingAndGlyphs" style="" ><tspan fill="#3438D8">CATGCGTCAATTTTACGCA</tspan><tspan fill="#111">GAC</tspan><tspan fill="#E0262A">TATCTTT</tspan><tspan fill="#F0A030">CTA</tspan><tspan fill="#E0262A">GGG</tspan><tspan fill="#111">TTAA</tspan></text>
<text x="166.94" y="939.50" font-size="26.52" fill="#111111" textLength="100.35" lengthAdjust="spacingAndGlyphs" style="" >19-bp IR</text>
<text x="493.97" y="942.70" font-size="27.39" fill="#111111" textLength="107.01" lengthAdjust="spacingAndGlyphs" style="" >13-bp TR</text>
<text x="0.10" y="995.10" font-size="34.06" fill="#111111" textLength="25.25" lengthAdjust="spacingAndGlyphs" style="font-weight:bold;" >C</text>
<text x="73.51" y="990.20" font-size="28.26" fill="#111111" textLength="210.38" lengthAdjust="spacingAndGlyphs" style="" >PCR Mutagenesis</text>
<text x="410.78" y="989.00" font-size="26.52" fill="#111111" textLength="240.91" lengthAdjust="spacingAndGlyphs" style="" >Pool of Mutant SRTs</text>
<text x="440.50" y="1161.70" font-size="27.68" fill="#111111" textLength="234.76" lengthAdjust="spacingAndGlyphs" style="" >Analyze Nucleotide</text>
<text x="435.27" y="1196.10" font-size="28.55" fill="#111111" textLength="248.14" lengthAdjust="spacingAndGlyphs" style="" >Composition of SRTs</text>
<text x="29.07" y="1249.30" font-size="27.83" fill="#111111" textLength="109.49" lengthAdjust="spacingAndGlyphs" style="" >Transfect</text>
<text x="28.98" y="1284.60" font-size="28.70" fill="#111111" textLength="107.91" lengthAdjust="spacingAndGlyphs" style="" >SRTs and</text>
<text x="28.92" y="1319.80" font-size="28.70" fill="#111111" textLength="112.84" lengthAdjust="spacingAndGlyphs" style="" >piggyBac</text>
<text x="735.25" y="780.90" font-size="33.62" fill="#111111" textLength="27.24" lengthAdjust="spacingAndGlyphs" style="font-weight:bold;" >D</text>
<text x="799.78" y="773.20" font-size="25.65" fill="#111111" textLength="173.40" lengthAdjust="spacingAndGlyphs" style="" >Position 1: CTA</text>
<text x="1038.38" y="782.00" font-size="33.62" fill="#111111" textLength="24.79" lengthAdjust="spacingAndGlyphs" style="font-weight:bold;" >E</text>
<text x="1111.68" y="773.60" font-size="26.23" fill="#111111" textLength="173.40" lengthAdjust="spacingAndGlyphs" style="" >Position 2: CTA</text>
<text x="724.54" y="1080.20" font-size="35.94" fill="#111111" textLength="21.20" lengthAdjust="spacingAndGlyphs" style="font-weight:bold;" >F</text>
<text x="790.98" y="1069.50" font-size="25.65" fill="#111111" textLength="173.40" lengthAdjust="spacingAndGlyphs" style="" >Position 3: CTA</text>
<text x="1138.51" y="1070.00" font-size="26.67" fill="#111111" textLength="135.49" lengthAdjust="spacingAndGlyphs" style="" >Nucleotide</text>
<text x="1197.50" y="1132.50" font-size="23.48" fill="#111111" textLength="15.05" lengthAdjust="spacingAndGlyphs" style="" >A</text>
<text x="1196.36" y="1165.00" font-size="26.09" fill="#111111" textLength="16.49" lengthAdjust="spacingAndGlyphs" style="" >C</text>
<text x="1195.24" y="1196.00" font-size="24.93" fill="#111111" textLength="19.59" lengthAdjust="spacingAndGlyphs" style="" >G</text>
<text x="1196.97" y="1228.50" font-size="26.81" fill="#111111" textLength="16.08" lengthAdjust="spacingAndGlyphs" style="" >T</text>
<text x="1181.32" y="1282.90" font-size="26.81" fill="#111111" textLength="47.58" lengthAdjust="spacingAndGlyphs" style="" >Mut</text>
<text x="1188.08" y="1326.80" font-size="26.81" fill="#111111" textLength="38.82" lengthAdjust="spacingAndGlyphs" style="" >WT</text>
<text x="206.30" y="1241.60" font-size="19.71" fill="#0F2A08" textLength="82.58" lengthAdjust="spacingAndGlyphs" style="" >piggyBac</text>
</svg></body></html>
